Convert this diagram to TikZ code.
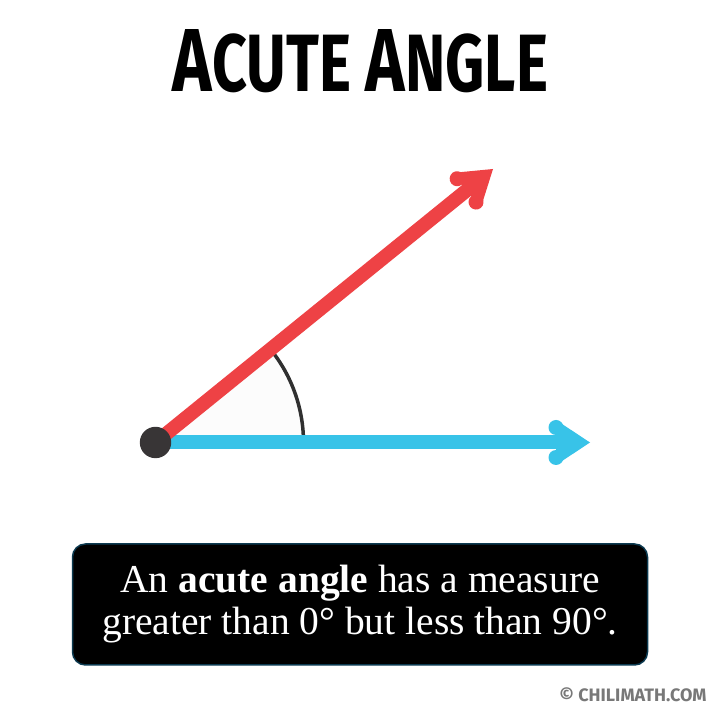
\documentclass[tikz,border=0pt]{standalone}
\usepackage{fontspec}
\usetikzlibrary{calc}
\setmainfont{Liberation Serif}
\newfontfamily\titlefont{Fira Sans}
\newfontfamily\credfont{Fira Sans}
\definecolor{redc}{RGB}{238,66,69}
\definecolor{bluec}{RGB}{56,195,232}
\definecolor{dotc}{RGB}{56,53,54}
\definecolor{arcc}{RGB}{48,48,48}
\definecolor{boxedge}{RGB}{12,58,80}
\definecolor{credc}{RGB}{120,120,120}
\tikzset{
  ray/.style={line width=14pt, line cap=butt},
  ahead/.pic={
    \fill (0,0) -- (-34,22.5) -- (-34,-22.5) -- cycle;
    \fill (-34,15) circle[radius=7.5];
    \fill (-34,-15) circle[radius=7.5];
  },
  notebox/.style={rectangle, rounded corners=13pt, fill=black, draw=boxedge,
    line width=1.5pt, minimum width=575pt, minimum height=121pt,
    text=white, align=center, inner sep=0pt,
    font=\fontsize{39.5}{42}\selectfont},
}
\begin{document}
\begin{tikzpicture}[x=1pt,y=1pt]
  \useasboundingbox (0,0) rectangle (720,720);
  \fill[white] (0,0) rectangle (720,720);
  % title
  \node[anchor=center] (title) at (360.5,659)
    {\resizebox{375pt}{62pt}{\titlefont\bfseries\fontsize{80}{80}\selectfont
      {\fontsize{88}{88}\selectfont A}CUTE {\fontsize{88}{88}\selectfont A}NGLE}};
  % geometry
  \coordinate (V) at (155.5,277.5);
  \coordinate (B) at (590,277.5);
  \coordinate (R) at (493,551);
  % angle sector and arc
  \fill[black!1.2] (V) -- ++(148,0) arc[start angle=0, end angle=39, radius=148] -- cycle;
  \draw[arcc, line width=3.5pt] ($(V)+(148,0)$) arc[start angle=0, end angle=39, radius=148];
  % rays
  \draw[ray, bluec, shorten >=20pt] (V) -- (B);
  \draw[ray, redc, shorten >=20pt] (V) -- (R);
  \pic[color=bluec] at (B) {ahead};
  \pic[color=redc, rotate=39.02] at (R) {ahead};
  % vertex
  \fill[dotc] (V) circle[radius=15.7];
  % note box
  \node[notebox] (note) at (360,115.5) {An \textbf{acute angle} has a measure\\greater than 0° but less than 90°.};
  % credit
  \node[anchor=east, inner sep=0pt] (credit) at (706.7,25.3)
    {\resizebox{147pt}{!}{\credfont\bfseries\color{credc}\fontsize{18}{18}\selectfont © CHILIMATH.COM}};
\end{tikzpicture}
\end{document}
